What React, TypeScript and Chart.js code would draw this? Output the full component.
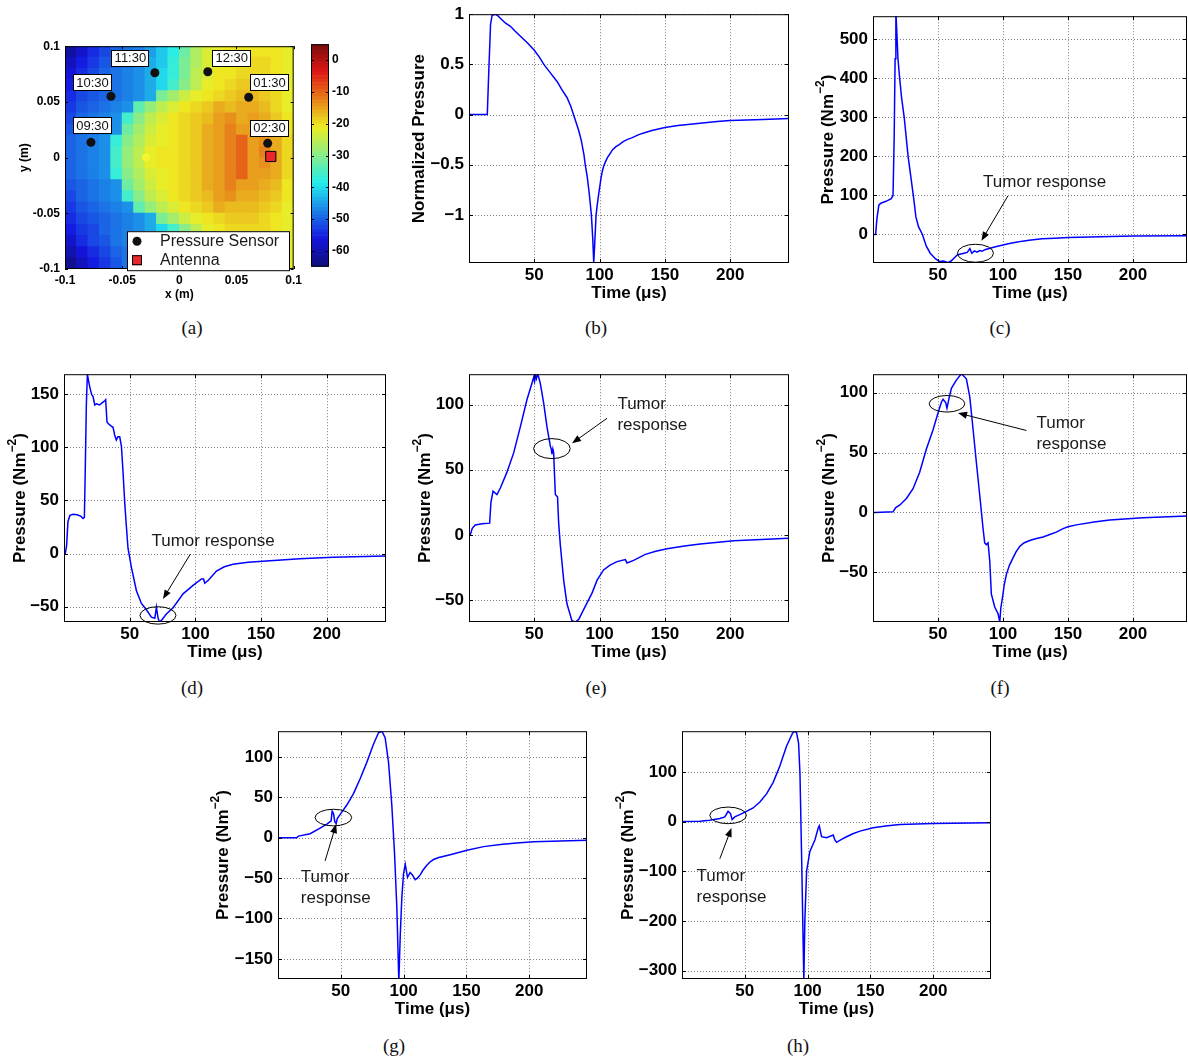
import React, { useEffect, useRef } from 'react';
import { Chart, registerables } from 'chart.js';

Chart.register(...registerables);

const FONT = "'Liberation Sans', Arial, Helvetica, sans-serif";
Chart.defaults.font.family = FONT;

// ================= Panel (a): pressure field map (dB) =================
const heatX = [-0.095, -0.085, -0.075, -0.065, -0.055, -0.045, -0.035, -0.025, -0.015, -0.005, 0.005, 0.015, 0.025, 0.035, 0.045, 0.055, 0.065, 0.075, 0.085, 0.095];
const heatY = [0.095, 0.085, 0.075, 0.065, 0.055, 0.045, 0.035, 0.025, 0.015, 0.005, -0.005, -0.015, -0.025, -0.035, -0.045, -0.055, -0.065, -0.075, -0.085, -0.095];
const heatDb = [
  [-57, -54, -51, -49, -47, -46, -45, -43, -40, -37, -32, -27, -24, -23, -22, -22, -22, -22, -22, -23],
  [-55, -52, -50, -48, -47, -46, -44, -42, -40, -36, -31, -27, -24, -23, -22, -22, -21, -21, -22, -23],
  [-53, -51, -49, -47, -46, -45, -44, -42, -39, -36, -31, -26, -24, -22, -22, -21, -21, -21, -22, -23],
  [-52, -50, -48, -47, -46, -45, -44, -42, -39, -35, -30, -26, -23, -22, -21, -20, -20, -21, -22, -23],
  [-51, -49, -48, -47, -46, -45, -44, -42, -31, -28, -25, -23, -22, -21, -20, -19, -19, -20, -21, -23],
  [-50, -48, -47, -46, -45, -44, -33, -29, -26, -24, -22, -21, -20, -18, -19, -18, -18, -19, -21, -23],
  [-49, -47, -46, -45, -44, -35, -30, -26, -24, -22, -21, -20, -19, -17, -16, -18, -17, -18, -20, -22],
  [-48, -47, -46, -45, -44, -32, -28, -25, -23, -22, -21, -20, -18, -17, -15, -17, -17, -17, -19, -22],
  [-47, -46, -45, -44, -36, -30, -27, -24, -23, -22, -21, -20, -18, -17, -15, -13, -17, -16, -18, -21],
  [-47, -46, -45, -44, -35, -29, -26, -23, -22, -22, -21, -20, -18, -17, -15, -13, -17, -15, -18, -21],
  [-47, -46, -45, -44, -35, -29, -26, -23, -22, -22, -21, -20, -18, -17, -15, -13, -17, -16, -18, -21],
  [-47, -46, -45, -44, -36, -30, -27, -24, -23, -22, -21, -20, -18, -17, -15, -13, -17, -17, -18, -21],
  [-48, -47, -46, -45, -44, -32, -28, -25, -23, -22, -21, -20, -18, -17, -15, -17, -17, -18, -19, -22],
  [-49, -47, -46, -45, -44, -35, -30, -26, -24, -22, -21, -20, -19, -17, -16, -18, -18, -19, -20, -22],
  [-50, -48, -47, -46, -45, -44, -33, -29, -26, -24, -22, -21, -20, -18, -19, -19, -19, -20, -21, -23],
  [-51, -49, -48, -47, -46, -45, -44, -42, -31, -28, -25, -23, -22, -21, -20, -20, -20, -21, -22, -23],
  [-52, -50, -49, -47, -46, -45, -44, -42, -39, -35, -30, -26, -23, -22, -21, -21, -21, -21, -22, -23],
  [-54, -51, -49, -48, -46, -45, -44, -42, -40, -36, -31, -27, -24, -23, -22, -21, -21, -22, -22, -23],
  [-56, -53, -51, -49, -47, -46, -45, -43, -40, -37, -32, -27, -24, -23, -22, -22, -22, -22, -22, -23],
  [-58, -55, -52, -50, -48, -46, -45, -43, -41, -38, -33, -28, -25, -23, -22, -22, -22, -22, -23, -23],
];
const sensorX = [-0.0773, -0.0598, -0.0214, 0.0249, 0.0607, 0.0773];
const sensorY = [0.0137, 0.055, 0.0762, 0.0771, 0.0542, 0.0128];
const sensorLabels = ['09:30', '10:30', '11:30', '12:30', '01:30', '02:30'];
const sensorLabelX = [-0.076, -0.076, -0.0428, 0.0459, 0.0789, 0.0789];
const sensorLabelY = [0.0284, 0.0672, 0.0893, 0.0893, 0.0672, 0.0263];
const antennaX = [0.08];
const antennaY = [0.001];
const tumorX = [-0.029];
const tumorY = [0.0];
const mapTicks = [-0.1, -0.05, 0, 0.05, 0.1];
const colorbarTicks = [0, -10, -20, -30, -40, -50, -60];

// ================= Panels (b)-(h): pressure time signals =================
const timeTicks = [50, 100, 150, 200];

const bTime = [0, 14, 15.2, 16.5, 17.7, 20, 22, 24, 28, 31.7, 35, 39.4, 45, 50, 54, 57.3, 62, 67.4, 71, 75, 78, 80, 82, 84, 86, 88, 89, 90.5, 92, 93.7, 94.8, 95.5, 96.2, 97.3, 98, 99, 100, 101, 102, 103, 104.5, 106, 108, 110, 112.5, 115, 118, 121, 125, 130, 135, 140, 150, 160, 175, 190, 200, 225, 245];
const bValue = [0, 0, 0.45, 0.9, 0.99, 1.0, 0.985, 0.96, 0.91, 0.88, 0.835, 0.78, 0.71, 0.64, 0.57, 0.5, 0.42, 0.33, 0.25, 0.17, 0.08, 0.0, -0.08, -0.16, -0.26, -0.4, -0.5, -0.62, -0.78, -1.0, -1.25, -1.48, -1.3, -1.0, -0.92, -0.82, -0.73, -0.64, -0.57, -0.52, -0.47, -0.43, -0.39, -0.35, -0.32, -0.3, -0.27, -0.25, -0.23, -0.2, -0.18, -0.16, -0.13, -0.11, -0.09, -0.07, -0.06, -0.05, -0.04];
const bTicks = [-1, -0.5, 0, 0.5, 1];

const cTime = [0, 2, 3, 4.5, 6, 10, 14, 15.4, 16.3, 17, 17.6, 18.3, 19.2, 20.5, 22, 24, 27, 29, 31, 33, 35, 38, 41, 44, 48, 51, 54, 56, 57.5, 60, 65, 70, 72.5, 74.5, 76, 78, 80, 82, 84, 86, 90, 95, 100, 105, 110, 115, 120, 130, 140, 150, 175, 200, 242];
const cValue = [0, 0, 40, 75, 80, 85, 92, 100, 250, 450, 570, 520, 450, 400, 350, 300, 200, 150, 100, 45, 20, 0, -30, -48, -62, -69, -68, -70, -72, -68, -52, -48, -46, -36, -48, -42, -45, -41, -43, -39, -35, -31, -27, -23, -20, -17, -15, -11, -9.5, -8, -6, -4, -3];
const cTicks = [0, 100, 200, 300, 400, 500];

const dTime = [0, 1, 2, 3, 4.5, 7, 10, 13, 14.5, 15.5, 16.2, 17, 17.8, 18.8, 19.6, 21, 22.1, 23.4, 24.7, 27, 29, 31, 31.7, 32.7, 34, 36, 37.3, 38.5, 39.8, 41, 42.4, 43.7, 45, 46.2, 47.5, 48.7, 51.3, 55.1, 58.9, 62.7, 66.5, 69.1, 70.3, 71.6, 72.6, 74.1, 77.9, 83, 90.6, 98.2, 104.6, 106.2, 107.1, 110, 116, 122, 128.6, 140, 154, 179.4, 204.8, 244.6];
const dValue = [0, 0, 8, 30, 36, 37, 36.5, 35, 33, 34, 80, 140, 169, 162, 157, 150, 148, 140, 141, 140, 142, 144, 145, 124, 122, 120, 119, 112, 107, 110, 110, 101, 75, 48, 25, 5, -13, -35, -47, -53, -60, -61, -50.5, -61, -64.5, -63, -57, -51, -38, -30, -24, -24, -28, -25, -16.5, -12.5, -10, -8.3, -7, -5, -3.5, -2.3];
const dTicks = [-50, 0, 50, 100, 150];

const eTime = [0, 1, 2.5, 4.8, 10, 15.8, 16.8, 18.4, 21.4, 24, 29, 34.2, 39.3, 44.4, 48.2, 49.5, 50.2, 50.8, 51.6, 52.6, 53.4, 54.6, 57.2, 59.7, 62.3, 63, 63.5, 64.2, 64.8, 66.1, 67, 67.8, 68.6, 69.9, 72.5, 75, 78.8, 81.4, 84, 89, 94.1, 98, 103, 108, 113.3, 119.7, 121, 126, 135, 143, 151.6, 165, 177, 202.6, 245];
const eValue = [0, 0, 5, 7.6, 8.5, 9, 25, 33.6, 31, 36, 48, 63, 83, 104, 116.5, 121, 118, 123, 120, 124, 121, 116.5, 101, 83, 68, 66, 62, 66, 63, 31, 30, 29, 10, -7.6, -35, -53, -66, -67, -65, -55, -45, -35, -27, -23.3, -20.6, -19, -21.6, -19.6, -15, -12.6, -10.7, -8.6, -7, -4.6, -2.6];
const eTicks = [-50, 0, 50, 100];

const fTime = [0, 1.3, 15.4, 17.5, 20.5, 25.7, 30.8, 35.9, 41, 46.2, 50, 52.6, 53.9, 55.9, 56.9, 58.5, 60.3, 64.1, 68, 71.8, 74.4, 77, 79.5, 82.1, 84.6, 85.9, 87.2, 88.5, 89.8, 91, 93.6, 96.2, 97.5, 98.3, 100, 101, 102.6, 105, 107.7, 110, 112.8, 116, 120.5, 125, 130.8, 136, 141, 146.2, 150, 156.4, 170, 182, 207.7, 241.5];
const fValue = [0, 0, 0.5, 4, 6, 11.6, 19.8, 33.5, 52.7, 69, 83, 92, 94.5, 91.8, 87, 95.4, 103.6, 110.5, 115.7, 111.6, 96.7, 69, 41.7, 14.3, -13, -25.5, -26.9, -25.5, -40.6, -68, -79, -84.6, -91.5, -80, -68, -60, -51.7, -44, -38, -33, -28.5, -25.5, -23.5, -22, -20.5, -18.5, -16.5, -13.5, -12, -10.4, -8, -6.3, -4.4, -3];
const fTicks = [-50, 0, 50, 100];

const gTime = [0, 14.9, 16.3, 25.6, 33.5, 38.9, 42.3, 43.1, 44.2, 45.2, 46.3, 47.3, 49.5, 54.8, 60.1, 65.4, 70.7, 76, 80, 82.7, 85.3, 88, 90.6, 92.8, 94.6, 96.2, 97.3, 98.6, 99.9, 101.3, 103.1, 105.2, 107, 109.2, 111, 113.2, 115.5, 118.5, 121, 123.8, 128, 137.1, 150.4, 163.7, 177, 190, 203.5, 225, 246];
const gValue = [0, 0, 2, 5, 12, 17, 21, 33, 30, 20, 17.7, 24, 29, 40.5, 54.7, 73, 93.4, 115.9, 130, 132, 124, 93.4, 40.5, -20.5, -85.7, -178, -122, -73.5, -45, -33, -49, -43, -46, -52, -50, -46, -40, -34, -30, -27, -24.5, -21, -15.5, -11, -8.5, -6.5, -5, -4, -3];
const gTicks = [-150, -100, -50, 0, 50, 100];

const hTime = [0, 14.2, 22.1, 30.1, 34.1, 36.7, 38.6, 39.9, 42, 46, 51.3, 56.6, 62, 67.3, 72.6, 77.9, 83.2, 88, 90, 91.2, 92.8, 93.9, 95.2, 96.5, 97, 97.8, 99.2, 101.8, 105.8, 108.5, 109.3, 111.1, 115.1, 120.4, 121.7, 123.1, 127, 131, 136, 141.7, 152.3, 162, 173.5, 200, 246];
const hValue = [0, 0.9, 2.8, 6.1, 9.4, 20.7, 16, 4, 9.4, 14, 20.7, 27.4, 39.3, 55.8, 79, 112, 151.8, 178, 182, 179, 158, 98.5, -67, -250, -320, -199, -100, -60, -37, -12.6, -8.6, -30.5, -32.5, -27, -37, -41.7, -36, -30.5, -24.5, -19.2, -12.6, -9, -6, -4, -2.6];
const hTicks = [-300, -200, -100, 0, 100];

// ================= layout / annotation specs =================
type Ann = { ex: number; ey: number; rx: number; ry: number; from: number[]; to: number[]; lines: string[]; tx: number; ty: number; align: 'left' | 'center' };
type Spec = {
  key: string; time: number[]; value: number[]; xMax: number; yMin: number; yMax: number; yTicks: number[];
  yTitle: string; ySup?: string; yTail?: string; yGap: number;
  box: { left: number; top: number; w: number; h: number }; ann?: Ann;
};

const TUMOR = 'Tumor response';
const panels: Spec[] = [
  { key: 'b', time: bTime, value: bValue, xMax: 245, yMin: -1.48, yMax: 1, yTicks: bTicks, yTitle: 'Normalized Pressure', yGap: 50,
    box: { left: 469, top: 11, w: 320, h: 252 } },
  { key: 'c', time: cTime, value: cValue, xMax: 241.5, yMin: -73, yMax: 559, yTicks: cTicks, yTitle: 'Pressure (Nm', ySup: '\u22122', yTail: ')', yGap: 45,
    box: { left: 873, top: 13, w: 314, h: 250 },
    ann: { ex: 78.8, ey: -48, rx: 18, ry: 9, from: [103.8, 99], to: [83.4, -16], lines: [TUMOR], tx: 132, ty: 132.6, align: 'center' } },
  { key: 'd', time: dTime, value: dValue, xMax: 245, yMin: -64.5, yMax: 169, yTicks: dTicks, yTitle: 'Pressure (Nm', ySup: '\u22122', yTail: ')', yGap: 44,
    box: { left: 64, top: 371, w: 322, h: 251 },
    ann: { ex: 71.5, ey: -58.3, rx: 18, ry: 8.7, from: [96.2, -0.4], to: [75.3, -42.8], lines: [TUMOR], tx: 113.4, ty: 12, align: 'center' } },
  { key: 'e', time: eTime, value: eValue, xMax: 245, yMin: -67, yMax: 123.5, yTicks: eTicks, yTitle: 'Pressure (Nm', ySup: '\u22122', yTail: ')', yGap: 44,
    box: { left: 469, top: 371, w: 320, h: 251 },
    ann: { ex: 63.5, ey: 66.3, rx: 18.3, ry: 10, from: [105.7, 89.6], to: [78.9, 70.4], lines: ['Tumor', 'response'], tx: 113.6, ty: 100, align: 'left' } },
  { key: 'f', time: fTime, value: fValue, xMax: 241.5, yMin: -91.5, yMax: 115.4, yTicks: fTicks, yTitle: 'Pressure (Nm', ySup: '\u22122', yTail: ')', yGap: 44,
    box: { left: 873, top: 371, w: 314, h: 251 },
    ann: { ex: 56.9, ey: 90.7, rx: 17.8, ry: 8.3, from: [118, 68.4], to: [65.4, 83], lines: ['Tumor', 'response'], tx: 125.7, ty: 74.8, align: 'left' } },
  { key: 'g', time: gTime, value: gValue, xMax: 246, yMin: -175, yMax: 132, yTicks: gTicks, yTitle: 'Pressure (Nm', ySup: '\u22122', yTail: ')', yGap: 55,
    box: { left: 278, top: 728, w: 309, h: 251 },
    ann: { ex: 44.1, ey: 25, rx: 18.3, ry: 8.3, from: [37.5, -28.7], to: [46.3, 16.9], lines: ['Tumor', 'response'], tx: 18.2, ty: -49, align: 'left' } },
  { key: 'h', time: hTime, value: hValue, xMax: 246, yMin: -317, yMax: 182, yTicks: hTicks, yTitle: 'Pressure (Nm', ySup: '\u22122', yTail: ')', yGap: 54,
    box: { left: 682, top: 728, w: 309, h: 251 },
    ann: { ex: 36.7, ey: 12.5, rx: 18.3, ry: 8.3, from: [30.1, -75], to: [39.4, -12.7], lines: ['Tumor', 'response'], tx: 11.6, ty: -110, align: 'left' } },
];

const captions = [
  { t: '(a)', x: 192, y: 328 }, { t: '(b)', x: 596, y: 328 }, { t: '(c)', x: 1000, y: 328 },
  { t: '(d)', x: 192, y: 688 }, { t: '(e)', x: 596, y: 688 }, { t: '(f)', x: 1000, y: 688 },
  { t: '(g)', x: 394, y: 1046 }, { t: '(h)', x: 798, y: 1046 },
];

// ================= helpers =================
function fmtTick(v: number) {
  return v < 0 ? '\u2212' + String(Math.abs(v)) : String(v);
}

// MATLAB "jet" colormap over [-60, 0] dB, slightly muted like the printed figure
function jet(v: number) {
  const t = Math.max(0, Math.min(1, (v + 60) / 60));
  const cl = (x: number) => Math.max(0, Math.min(1, x));
  const r = cl(1.5 - Math.abs(4 * t - 3));
  const g = cl(1.5 - Math.abs(4 * t - 2));
  const b = cl(1.5 - Math.abs(4 * t - 1));
  const m = (r + g + b) / 3;
  const k = 0.84;
  const f = (x: number) => Math.round(255 * 0.95 * (k * x + (1 - k) * m) + 8);
  return `rgb(${f(r)},${f(g)},${f(b)})`;
}

function drawRotatedTitle(ctx: any, main: string, sup: string | undefined, tail: string | undefined, cx: number, cy: number, size: number) {
  ctx.save();
  ctx.translate(cx, cy);
  ctx.rotate(-Math.PI / 2);
  ctx.fillStyle = '#000';
  ctx.textBaseline = 'middle';
  ctx.textAlign = 'left';
  const big = `bold ${size}px ${FONT}`;
  const small = `bold ${Math.round(size * 0.7)}px ${FONT}`;
  ctx.font = big;
  const w1 = ctx.measureText(main).width;
  const w3 = tail ? ctx.measureText(tail).width : 0;
  ctx.font = small;
  const w2 = sup ? ctx.measureText(sup).width : 0;
  let x = -(w1 + w2 + w3) / 2;
  ctx.font = big;
  ctx.fillText(main, x, 0);
  x += w1;
  if (sup) {
    ctx.font = small;
    ctx.fillText(sup, x, -7);
    x += w2;
  }
  if (tail) {
    ctx.font = big;
    ctx.fillText(tail, x, 0);
  }
  ctx.restore();
}

function lineDecor(s: Spec) {
  return {
    id: 'decor_' + s.key,
    beforeDatasetsDraw(chart: any) {
      const { ctx, chartArea: a, scales } = chart;
      ctx.save();
      ctx.strokeStyle = 'rgba(0,0,0,0.5)';
      ctx.lineWidth = 1;
      ctx.setLineDash([1, 2]);
      ctx.beginPath();
      for (const v of timeTicks) {
        const x = Math.round(scales.x.getPixelForValue(v)) + 0.5;
        ctx.moveTo(x, a.top);
        ctx.lineTo(x, a.bottom);
      }
      for (const v of s.yTicks) {
        const y = Math.round(scales.y.getPixelForValue(v)) + 0.5;
        ctx.moveTo(a.left, y);
        ctx.lineTo(a.right, y);
      }
      ctx.stroke();
      ctx.restore();
    },
    afterDatasetsDraw(chart: any) {
      const { ctx, chartArea: a, scales } = chart;
      const xs = scales.x, ys = scales.y;
      ctx.save();
      ctx.setLineDash([]);
      ctx.strokeStyle = '#000';
      ctx.lineWidth = 1;
      ctx.strokeRect(a.left + 0.5, a.top + 0.5, a.right - a.left - 1, a.bottom - a.top - 1);
      const tl = 4;
      ctx.beginPath();
      for (const v of timeTicks) {
        const x = Math.round(xs.getPixelForValue(v)) + 0.5;
        ctx.moveTo(x, a.bottom); ctx.lineTo(x, a.bottom - tl);
        ctx.moveTo(x, a.top); ctx.lineTo(x, a.top + tl);
      }
      for (const v of s.yTicks) {
        const y = Math.round(ys.getPixelForValue(v)) + 0.5;
        ctx.moveTo(a.left, y); ctx.lineTo(a.left + tl, y);
        ctx.moveTo(a.right, y); ctx.lineTo(a.right - tl, y);
      }
      ctx.stroke();

      ctx.fillStyle = '#000';
      ctx.font = `bold 17px ${FONT}`;
      ctx.textAlign = 'center';
      ctx.textBaseline = 'middle';
      ctx.fillText('Time (\u03bcs)', (a.left + a.right) / 2, a.bottom + 30);
      drawRotatedTitle(ctx, s.yTitle, s.ySup, s.yTail, a.left - s.yGap, (a.top + a.bottom) / 2, 17);

      const n = s.ann;
      if (n) {
        ctx.strokeStyle = '#000';
        ctx.fillStyle = '#000';
        ctx.lineWidth = 1;
        ctx.beginPath();
        ctx.ellipse(xs.getPixelForValue(n.ex), ys.getPixelForValue(n.ey), n.rx, n.ry, 0, 0, Math.PI * 2);
        ctx.stroke();
        const x1 = xs.getPixelForValue(n.from[0]), y1 = ys.getPixelForValue(n.from[1]);
        const x2 = xs.getPixelForValue(n.to[0]), y2 = ys.getPixelForValue(n.to[1]);
        const ang = Math.atan2(y2 - y1, x2 - x1);
        const hl = 9, hw = 3.5;
        const c = Math.cos(ang), sn = Math.sin(ang);
        ctx.beginPath();
        ctx.moveTo(x1, y1);
        ctx.lineTo(x2 - hl * c * 0.8, y2 - hl * sn * 0.8);
        ctx.stroke();
        ctx.beginPath();
        ctx.moveTo(x2, y2);
        ctx.lineTo(x2 - hl * c + hw * sn, y2 - hl * sn - hw * c);
        ctx.lineTo(x2 - hl * c - hw * sn, y2 - hl * sn + hw * c);
        ctx.closePath();
        ctx.fill();
        ctx.font = `17px ${FONT}`;
        ctx.fillStyle = '#1a1a1a';
        ctx.textAlign = n.align;
        ctx.textBaseline = 'middle';
        const tx = xs.getPixelForValue(n.tx), ty = ys.getPixelForValue(n.ty);
        n.lines.forEach((l, i) => ctx.fillText(l, tx, ty + i * 21));
      }
      ctx.restore();
    },
  };
}

// ================= components =================
function LinePanel({ s }: { s: Spec }) {
  const ref = useRef<HTMLCanvasElement>(null);
  const L = Math.min(70, s.box.left);
  const T = 12;
  const B = 46;
  const R = Math.max(0, Math.min(4, 1188 - (s.box.left + s.box.w)));
  const cw = L + s.box.w + R;
  const ch = T + s.box.h + B;
  useEffect(() => {
    const chart = new Chart(ref.current as HTMLCanvasElement, {
      type: 'scatter',
      data: {
        datasets: [{
          data: s.time.map((t, i) => ({ x: t, y: s.value[i] })),
          showLine: true,
          borderColor: '#0000ff',
          borderWidth: 1.5,
          pointRadius: 0,
          pointHitRadius: 0,
          tension: 0,
          clip: 0,
        } as any],
      },
      options: {
        responsive: false,
        animation: false,
        events: [],
        layout: { padding: { top: T, right: R, left: 0, bottom: 0 } },
        plugins: { legend: { display: false }, tooltip: { enabled: false } },
        scales: {
          x: {
            type: 'linear', min: 0, max: s.xMax,
            grid: { display: false, drawTicks: false }, border: { display: false },
            afterBuildTicks: (sc: any) => { sc.ticks = timeTicks.map((v) => ({ value: v })); },
            afterFit: (sc: any) => { sc.height = B; },
            ticks: { font: { size: 17, weight: 'bold', family: FONT }, color: '#000', padding: 2, maxRotation: 0, autoSkip: false, callback: (v: any) => fmtTick(Number(v)) },
          },
          y: {
            type: 'linear', min: s.yMin, max: s.yMax,
            grid: { display: false, drawTicks: false }, border: { display: false },
            afterBuildTicks: (sc: any) => { sc.ticks = s.yTicks.map((v) => ({ value: v })); },
            afterFit: (sc: any) => { sc.width = L; },
            ticks: { font: { size: 17, weight: 'bold', family: FONT }, color: '#000', padding: 5, autoSkip: false, callback: (v: any) => fmtTick(Number(v)) },
          },
        },
      } as any,
      plugins: [lineDecor(s)],
    });
    return () => chart.destroy();
  }, []);
  return (
    <canvas ref={ref} width={cw} height={ch}
      style={{ position: 'absolute', left: s.box.left - L, top: s.box.top - T, width: cw, height: ch }} />
  );
}

function MapPanel() {
  const ref = useRef<HTMLCanvasElement>(null);
  const box = { left: 65, top: 42, w: 229, h: 227 };
  const L = 62, T = 8, R = 12, B = 36;
  const cw = L + box.w + R, ch = T + box.h + B;
  useEffect(() => {
    const cells: any[] = [];
    heatY.forEach((y, r) => heatX.forEach((x, c) => cells.push({ x, y, v: heatDb[r][c] })));
    const cellRadius = (ctx: any) => {
      const a = ctx.chart.chartArea;
      const w = a ? Math.max(a.width / heatX.length, a.height / heatY.length) : 11.5;
      return (w + 0.8) / Math.SQRT2;
    };
    const decor = {
      id: 'mapDecor',
      afterDatasetsDraw(chart: any) {
        const { ctx, chartArea: a, scales } = chart;
        const xs = scales.x, ys = scales.y;
        ctx.save();
        ctx.strokeStyle = '#000';
        ctx.lineWidth = 1;
        ctx.strokeRect(a.left + 0.5, a.top + 0.5, a.right - a.left - 1, a.bottom - a.top - 1);
        ctx.beginPath();
        for (const v of mapTicks) {
          const x = Math.round(xs.getPixelForValue(v)) + 0.5;
          ctx.moveTo(x, a.bottom); ctx.lineTo(x, a.bottom - 3);
          ctx.moveTo(x, a.top); ctx.lineTo(x, a.top + 3);
          const y = Math.round(ys.getPixelForValue(v)) + 0.5;
          ctx.moveTo(a.left, y); ctx.lineTo(a.left + 3, y);
          ctx.moveTo(a.right, y); ctx.lineTo(a.right - 3, y);
        }
        ctx.stroke();
        // sensor labels
        ctx.font = `13px ${FONT}`;
        ctx.textAlign = 'center';
        ctx.textBaseline = 'middle';
        sensorLabels.forEach((lab, i) => {
          const cx = xs.getPixelForValue(sensorLabelX[i]);
          const cy = ys.getPixelForValue(sensorLabelY[i]);
          const w = Math.round(ctx.measureText(lab).width + 6);
          const h = 17;
          const lx = Math.round(cx - w / 2), ly = Math.round(cy - h / 2);
          ctx.fillStyle = '#fff';
          ctx.fillRect(lx, ly, w, h);
          ctx.strokeStyle = '#000';
          ctx.strokeRect(lx + 0.5, ly + 0.5, w - 1, h - 1);
          ctx.fillStyle = '#111';
          ctx.fillText(lab, cx, cy + 0.5);
        });
        // legend
        const lx = a.left + 62, ly = a.top + 185, lw = 163, lh = 40;
        ctx.fillStyle = '#fff';
        ctx.fillRect(lx, ly, lw, lh);
        ctx.strokeStyle = '#000';
        ctx.strokeRect(lx + 0.5, ly + 0.5, lw - 1, lh - 1);
        ctx.fillStyle = '#111';
        ctx.beginPath();
        ctx.arc(a.left + 72, a.top + 195, 4.5, 0, Math.PI * 2);
        ctx.fill();
        ctx.fillStyle = '#e8262b';
        ctx.fillRect(a.left + 67, a.top + 209, 10, 10);
        ctx.strokeStyle = '#000';
        ctx.strokeRect(a.left + 67.5, a.top + 209.5, 9, 9);
        ctx.fillStyle = '#1a1a1a';
        ctx.font = `16px ${FONT}`;
        ctx.textAlign = 'left';
        ctx.fillText('Pressure Sensor', a.left + 95, a.top + 195);
        ctx.fillText('Antenna', a.left + 95, a.top + 214);
        // axis titles
        ctx.fillStyle = '#000';
        ctx.font = `bold 12px ${FONT}`;
        ctx.textAlign = 'center';
        ctx.fillText('x (m)', (a.left + a.right) / 2, a.bottom + 26);
        drawRotatedTitle(ctx, 'y (m)', undefined, undefined, a.left - 40, (a.top + a.bottom) / 2, 12);
        ctx.restore();
      },
    };
    const chart = new Chart(ref.current as HTMLCanvasElement, {
      type: 'scatter',
      data: {
        datasets: [
          { label: 'Tumor', data: tumorX.map((x, i) => ({ x, y: tumorY[i] })), pointStyle: 'circle', pointRadius: 4, pointBackgroundColor: '#f7f530', pointBorderWidth: 0, order: 0 },
          { label: 'Pressure Sensor', data: sensorX.map((x, i) => ({ x, y: sensorY[i] })), pointStyle: 'circle', pointRadius: 4.5, pointBackgroundColor: '#111', pointBorderWidth: 0, order: 0 },
          { label: 'Antenna', data: antennaX.map((x, i) => ({ x, y: antennaY[i] })), pointStyle: 'rect', pointRadius: 7.2, pointBackgroundColor: '#e8262b', pointBorderColor: '#000', pointBorderWidth: 1, order: 0 },
          { label: 'Field', data: cells, pointStyle: 'rect', pointRadius: cellRadius, pointBackgroundColor: (c: any) => jet(c.raw.v), pointBorderWidth: 0, order: 1, clip: 0 },
        ] as any,
      },
      options: {
        responsive: false,
        animation: false,
        events: [],
        layout: { padding: { top: T, right: R, left: 0, bottom: 0 } },
        plugins: { legend: { display: false }, tooltip: { enabled: false } },
        scales: {
          x: {
            type: 'linear', min: -0.1, max: 0.1,
            grid: { display: false, drawTicks: false }, border: { display: false },
            afterBuildTicks: (sc: any) => { sc.ticks = mapTicks.map((v) => ({ value: v })); },
            afterFit: (sc: any) => { sc.height = B; },
            ticks: { font: { size: 12, weight: 'bold', family: FONT }, color: '#000', padding: 4, maxRotation: 0, autoSkip: false, callback: (v: any) => String(v) },
          },
          y: {
            type: 'linear', min: -0.1, max: 0.1,
            grid: { display: false, drawTicks: false }, border: { display: false },
            afterBuildTicks: (sc: any) => { sc.ticks = mapTicks.map((v) => ({ value: v })); },
            afterFit: (sc: any) => { sc.width = L; },
            ticks: { font: { size: 12, weight: 'bold', family: FONT }, color: '#000', padding: 5, autoSkip: false, callback: (v: any) => String(v) },
          },
        },
      } as any,
      plugins: [decor],
    });
    return () => chart.destroy();
  }, []);
  return <canvas ref={ref} width={cw} height={ch} style={{ position: 'absolute', left: box.left - L, top: box.top - T, width: cw, height: ch }} />;
}

function ColorbarPanel() {
  const ref = useRef<HTMLCanvasElement>(null);
  const box = { left: 311, top: 42, w: 18, h: 227 };
  const T = 8, B = 8, R = 34;
  const cw = box.w + R, ch = T + box.h + B;
  useEffect(() => {
    const levels: number[] = [];
    for (let i = 0; i < 64; i++) levels.push(-(i + 0.5) * 60 / 64);
    const decor = {
      id: 'cbDecor',
      afterDatasetsDraw(chart: any) {
        const { ctx, chartArea: a, scales } = chart;
        ctx.save();
        ctx.strokeStyle = '#000';
        ctx.lineWidth = 1;
        ctx.strokeRect(a.left + 0.5, a.top + 0.5, a.right - a.left - 1, a.bottom - a.top - 1);
        ctx.beginPath();
        for (const v of colorbarTicks) {
          const y = Math.round(scales.v.getPixelForValue(v)) + 0.5;
          ctx.moveTo(a.left, y); ctx.lineTo(a.left + 3, y);
          ctx.moveTo(a.right, y); ctx.lineTo(a.right - 3, y);
        }
        ctx.stroke();
        ctx.restore();
      },
    };
    const chart = new Chart(ref.current as HTMLCanvasElement, {
      type: 'bar',
      data: {
        labels: levels.map((v) => v.toFixed(2)),
        datasets: [{ data: levels.map(() => 1), backgroundColor: levels.map(jet), borderWidth: 0, barPercentage: 1, categoryPercentage: 1, xAxisID: 'x', yAxisID: 'y' }],
      },
      options: {
        indexAxis: 'y',
        responsive: false,
        animation: false,
        events: [],
        layout: { padding: { top: T, bottom: B, left: 0, right: 0 } },
        plugins: { legend: { display: false }, tooltip: { enabled: false } },
        scales: {
          x: { type: 'linear', min: 0, max: 1, display: false },
          y: { type: 'category', display: false },
          v: {
            type: 'linear', axis: 'y', position: 'right', min: -60, max: 0,
            grid: { display: false, drawTicks: false }, border: { display: false },
            afterBuildTicks: (sc: any) => { sc.ticks = colorbarTicks.map((v) => ({ value: v })); },
            afterFit: (sc: any) => { sc.width = R; },
            ticks: { font: { size: 12, weight: 'bold', family: FONT }, color: '#000', padding: 3, autoSkip: false, callback: (v: any) => String(v) },
          },
        },
      } as any,
      plugins: [decor],
    });
    return () => chart.destroy();
  }, []);
  return <canvas ref={ref} width={cw} height={ch} style={{ position: 'absolute', left: box.left, top: box.top - T, width: cw, height: ch }} />;
}

export default function App() {
  return (
    <div style={{ position: 'absolute', left: 0, top: 0, width: 1188, height: 1060, overflow: 'hidden', background: '#fff' }}>
      <MapPanel />
      <ColorbarPanel />
      {panels.map((s) => <LinePanel key={s.key} s={s} />)}
      {captions.map((c) => (
        <div key={c.t} style={{ position: 'absolute', left: c.x - 30, top: c.y - 12, width: 60, height: 24, lineHeight: '24px', textAlign: 'center', fontFamily: "'Liberation Serif', 'DejaVu Serif', serif", fontSize: 19, color: '#111' }}>
          {c.t}
        </div>
      ))}
    </div>
  );
}
